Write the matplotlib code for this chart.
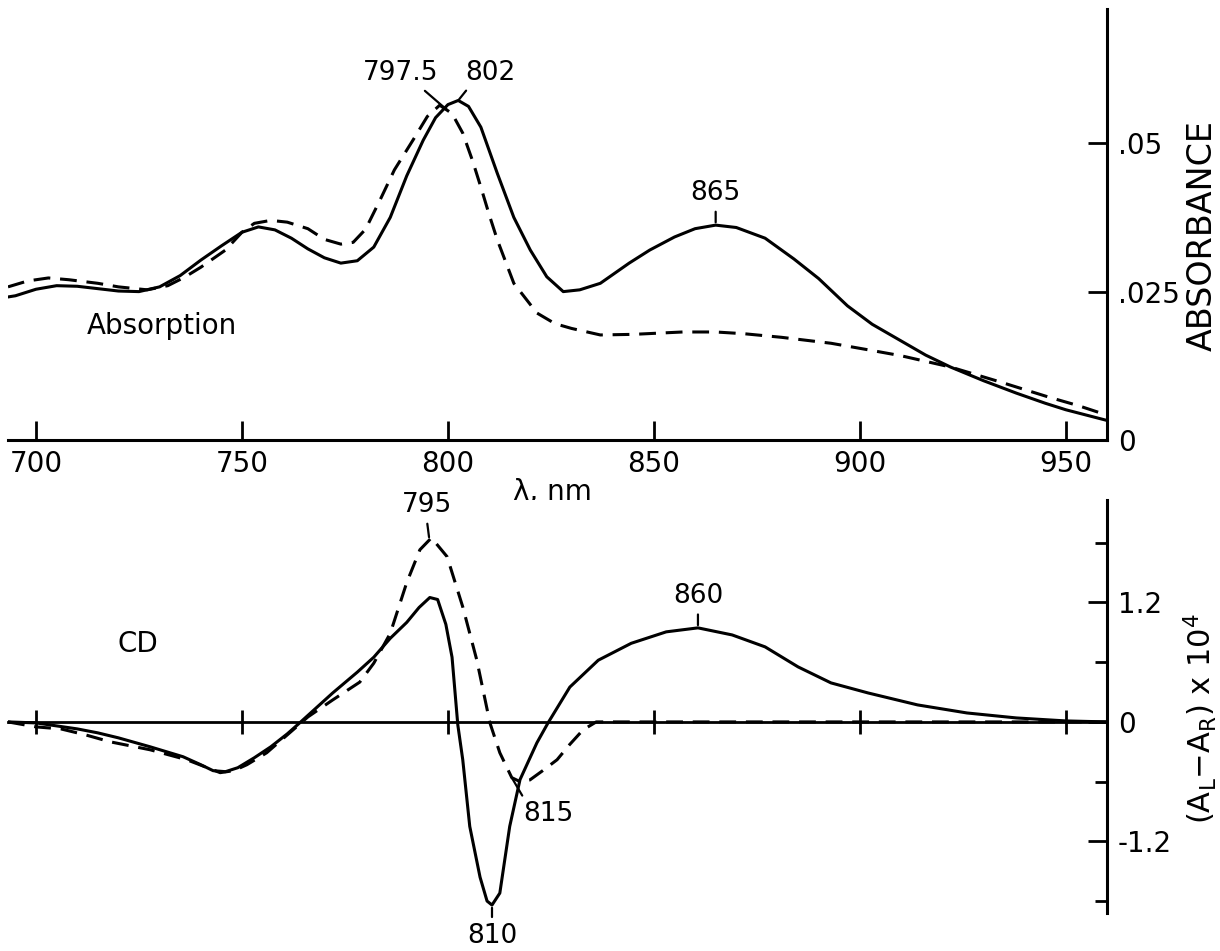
import numpy as np
import matplotlib.pyplot as plt

# absorption spectrum, solid curve (nm, absorbance)
abs_nm_solid = [693.2, 695, 700, 705, 710, 715, 720, 725, 730, 735, 740, 745, 750, 754,
                758, 762, 766, 770, 774, 778, 782, 786, 790, 794, 797, 800, 802.5, 805,
                808, 812, 816, 820, 824, 828, 832, 837, 844, 849, 855, 860, 865, 870,
                877, 884, 890, 897, 903, 910, 916, 922, 930, 938, 945, 950, 955, 960]
abs_solid = [0.0241, 0.0243, 0.0254, 0.0260, 0.0259, 0.0255, 0.0251, 0.0250, 0.0258, 0.0277,
             0.0303, 0.0327, 0.0350, 0.0359, 0.0354, 0.0340, 0.0322, 0.0307, 0.0298, 0.0302,
             0.0325, 0.0375, 0.0445, 0.0505, 0.0543, 0.0565, 0.0572, 0.0562, 0.0527, 0.0449,
             0.0375, 0.0320, 0.0275, 0.0250, 0.0253, 0.0264, 0.0298, 0.0320, 0.0342, 0.0356,
             0.0362, 0.0358, 0.0340, 0.0305, 0.0272, 0.0226, 0.0195, 0.0167, 0.0143, 0.0123,
             0.0100, 0.0079, 0.0062, 0.0051, 0.0042, 0.0033]

# absorption spectrum, dashed curve
abs_nm_dash = [693.2, 698, 703, 708, 715, 720, 727, 732, 736, 740, 746, 750, 753, 757, 761,
               766, 770, 774, 777, 780, 783.5, 787, 791.5, 795, 798, 801, 803.6, 806, 808,
               810, 812, 816, 821.6, 826, 830, 837, 845, 857, 865, 872, 881, 893, 902, 910,
               922, 934, 946, 953, 960]
abs_dash = [0.0258, 0.0268, 0.0273, 0.0270, 0.0264, 0.0258, 0.0253, 0.0260, 0.0274, 0.0291,
            0.0320, 0.0350, 0.0365, 0.0370, 0.0367, 0.0356, 0.0338, 0.0330, 0.0333, 0.0355,
            0.0404, 0.0455, 0.0505, 0.0545, 0.0564, 0.0550, 0.0517, 0.0470, 0.0426, 0.0380,
            0.0337, 0.0264, 0.0214, 0.0196, 0.0188, 0.0177, 0.0178, 0.0182, 0.0182, 0.0179,
            0.0173, 0.0163, 0.0152, 0.0142, 0.0123, 0.0098, 0.0072, 0.0058, 0.0042]

# CD spectrum, solid curve ((A_L - A_R) x 10^4)
cd_nm_solid = [693.2, 700, 705, 710, 715, 720, 727.7, 735.7, 740, 743, 746, 749, 753, 757,
               761, 764, 768, 772, 778, 782, 786, 790, 793, 795.6, 797.5, 799.5, 801, 802.4,
               803.6, 805.3, 807.8, 809.5, 810.7, 812.6, 815, 817.5, 821.6, 824.3, 829.6,
               836.5, 844.5, 853, 860.7, 869, 877, 885, 893, 902, 914, 926, 938, 950, 960]
cd_solid = [0.0, -0.01, -0.04, -0.07, -0.11, -0.16, -0.25, -0.35, -0.43, -0.49, -0.50, -0.46,
            -0.36, -0.25, -0.12, -0.01, 0.14, 0.29, 0.50, 0.65, 0.84, 1.00, 1.15, 1.25, 1.23,
            0.98, 0.65, -0.03, -0.38, -1.05, -1.56, -1.80, -1.84, -1.72, -1.05, -0.58, -0.21,
            -0.01, 0.35, 0.62, 0.79, 0.905, 0.945, 0.874, 0.754, 0.553, 0.392, 0.291, 0.171,
            0.09, 0.04, 0.01, 0.0]

# CD spectrum, dashed curve
cd_nm_dash = [693.2, 700, 706, 712, 718, 727.7, 736.6, 744.7, 748, 751.2, 756, 762.4, 766,
              772, 778.6, 782, 786, 790, 793.2, 796, 799.8, 803.6, 807, 810.2, 812.6, 815.5,
              817.5, 819.9, 823, 826.5, 829.5, 832.8, 836, 850, 900, 960]
cd_dash = [0.0, -0.05, -0.07, -0.13, -0.20, -0.28, -0.38, -0.51, -0.49, -0.43, -0.31, -0.08,
           0.05, 0.22, 0.40, 0.59, 0.89, 1.40, 1.73, 1.85, 1.66, 1.156, 0.623, -0.01, -0.31,
           -0.56, -0.60, -0.583, -0.49, -0.38, -0.23, -0.08, 0.0, 0.0, 0.0, 0.0]

xticks = [700, 750, 800, 850, 900, 950]
abs_ticks = [0, 0.025, 0.05]
abs_ticklabels = ['0', '.025', '.05']
cd_ticks = [-1.2, 0, 1.2]
cd_ticklabels = ['-1.2', '0', '1.2']
cd_minor = [-1.8, -0.6, 0.6, 1.8]

lw = 2.2
dash = (5.5, 3.2)
fs = 20
solid_kw = dict(color='black', lw=lw, solid_joinstyle='round', solid_capstyle='round')
dash_kw = dict(color='black', lw=lw, dashes=dash, dash_joinstyle='round')

fig = plt.figure(figsize=(12.2, 9.51), dpi=100)
ax1 = fig.add_axes([0.00656, 0.5373, 0.9008, 0.4532])
ax2 = fig.add_axes([0.00656, 0.03996, 0.9008, 0.4343])

# ---- absorption panel ----
ax1.plot(abs_nm_solid, abs_solid, **solid_kw)
ax1.plot(abs_nm_dash, abs_dash, **dash_kw)
ax1.set_xlim(693.2, 960)
ax1.set_ylim(0, 0.0726)
for s in ['top', 'left']:
    ax1.spines[s].set_visible(False)
for s in ['bottom', 'right']:
    ax1.spines[s].set_linewidth(2.2)
ax1.set_xticks(xticks)
ax1.set_xticklabels([str(t) for t in xticks])
ax1.yaxis.tick_right()
ax1.set_yticks(abs_ticks)
ax1.set_yticklabels(abs_ticklabels)
ax1.tick_params(axis='x', direction='in', length=14, width=2, pad=7, labelsize=fs)
ax1.tick_params(axis='y', direction='in', length=14, width=2, pad=8, labelsize=fs)
ax1.yaxis.get_major_ticks()[0].tick2line.set_visible(False)
ax1.set_xlabel('λ, nm', fontsize=fs)
ax1.xaxis.set_label_coords(0.4954, -0.088)
ax1.xaxis.label.set_va('top')
ax1.text(1.0864, 0.4756, 'ABSORBANCE', transform=ax1.transAxes, rotation=90,
         ha='center', va='center', fontsize=24)
ax1.text(0.140, 0.2645, 'Absorption', transform=ax1.transAxes,
         ha='center', va='center', fontsize=20)

lead = dict(arrowstyle='-', lw=1.6, color='black', shrinkA=2, shrinkB=1)
ax1.annotate('797.5', xy=(800, np.interp(800, abs_nm_dash, abs_dash)), xytext=(-34, 27),
             textcoords='offset points', ha='center', va='center', fontsize=19,
             arrowprops=dict(lead, relpos=(0.75, 0)))
ax1.annotate('802', xy=(802.5, np.interp(802.5, abs_nm_solid, abs_solid)), xytext=(23, 20),
             textcoords='offset points', ha='center', va='center', fontsize=19,
             arrowprops=dict(lead, relpos=(0.1, 0)))
ax1.annotate('865', xy=(865, np.interp(865, abs_nm_solid, abs_solid)), xytext=(0, 23),
             textcoords='offset points', ha='center', va='center', fontsize=19,
             arrowprops=dict(lead, relpos=(0.5, 0), shrinkB=2))

# ---- CD panel ----
ax2.plot(cd_nm_solid, cd_solid, **solid_kw)
ax2.plot(cd_nm_dash, cd_dash, **dash_kw)
ax2.set_xlim(693.2, 960)
ax2.set_ylim(-1.92, 2.23)
for s in ['top', 'left']:
    ax2.spines[s].set_visible(False)
ax2.spines['bottom'].set_position(('data', 0))
ax2.spines['bottom'].set_linewidth(2.0)
ax2.spines['right'].set_linewidth(2.2)
ax2.set_xticks(xticks)
ax2.set_xticklabels([])
ax2.tick_params(axis='x', direction='inout', length=17, width=2)
ax2.yaxis.tick_right()
ax2.set_yticks(cd_ticks)
ax2.set_yticklabels(cd_ticklabels)
ax2.set_yticks(cd_minor, minor=True)
ax2.tick_params(axis='y', which='major', direction='in', length=14, width=2, pad=8, labelsize=fs)
ax2.tick_params(axis='y', which='minor', direction='in', length=9, width=2)
ax2.text(1.0846, 0.472, r'(A$_\mathrm{L}$$-$A$_\mathrm{R}$) x 10$^4$', transform=ax2.transAxes,
         rotation=90, ha='center', va='center', fontsize=22)
ax2.text(0.1183, 0.651, 'CD', transform=ax2.transAxes, ha='center', va='center', fontsize=20)

ax2.annotate('795', xy=(795.5, np.interp(795.5, cd_nm_dash, cd_dash)), xytext=(-2, 25),
             textcoords='offset points', ha='center', va='center', fontsize=19,
             arrowprops=dict(lead, relpos=(0.5, 0), shrinkB=2))
ax2.annotate('810', xy=(810.7, np.interp(810.7, cd_nm_solid, cd_solid)), xytext=(0, -22),
             textcoords='offset points', ha='center', va='center', fontsize=19,
             arrowprops=dict(lead, relpos=(0.5, 1), shrinkB=2))
ax2.annotate('815', xy=(815.5, np.interp(815.5, cd_nm_dash, cd_dash)), xytext=(26, -26),
             textcoords='offset points', ha='center', va='center', fontsize=19,
             arrowprops=dict(lead, relpos=(0.05, 1), shrinkB=0))
ax2.annotate('860', xy=(860.7, np.interp(860.7, cd_nm_solid, cd_solid)), xytext=(0, 23),
             textcoords='offset points', ha='center', va='center', fontsize=19,
             arrowprops=dict(lead, relpos=(0.5, 0), shrinkB=2))

fig.savefig('out.png', dpi=100)
